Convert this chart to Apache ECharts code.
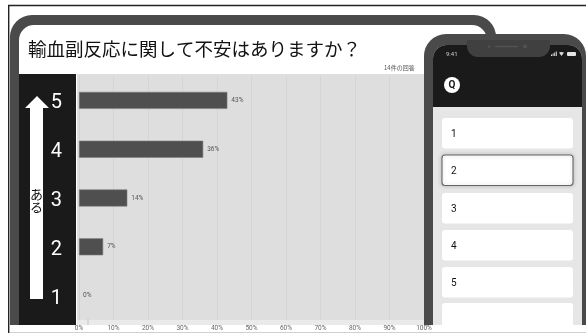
<!DOCTYPE html>
<html>
<head>
<meta charset="utf-8">
<style>html,body{margin:0;padding:0;background:#fff}#c{width:586px;height:333px}</style>
<script src="https://cdn.jsdelivr.net/npm/echarts@6/dist/echarts.min.js"></script>
</head>
<body>
<div id="c"></div>
<script>
// Survey answers: rating and share of the 14 responses
const ratings = ['5', '4', '3', '2', '1'];
const shares = [43, 36, 14, 7, 0];
const xTicks = [0, 10, 20, 30, 40, 50, 60, 70, 80, 90, 100];
const optionLabels = ['1', '2', '3', '4', '5'];
const titleText = '輸血副反応に関して不安はありますか？';
const countText = '14件の回答';

const JP = '"Noto Sans CJK JP","Liberation Sans",sans-serif';
const UI = 'Roboto,"Liberation Sans",sans-serif';

// Tablet frame, dark rating panel, plot background and the rating arrow
const backdrop = [
  { type: 'line', z: -20, shape: { x1: 8, y1: 5.5, x2: 586, y2: 5.5 }, style: { stroke: '#222222', lineWidth: 1.4 } },
  { type: 'line', z: -20, shape: { x1: 8.7, y1: 5, x2: 8.7, y2: 333 }, style: { stroke: '#222222', lineWidth: 1.4 } },
  { type: 'rect', z: -19, shape: { x: 10, y: 15, width: 486, height: 310, r: [22, 22, 0, 0] }, style: { fill: '#4a4a4a' } },
  { type: 'rect', z: -18, shape: { x: 19, y: 25, width: 468, height: 300, r: [15, 15, 0, 0] }, style: { fill: '#ffffff' } },
  { type: 'rect', z: -17, shape: { x: 19, y: 74, width: 57, height: 251 }, style: { fill: '#1a1a1a' } },
  { type: 'rect', z: -17, shape: { x: 77, y: 74, width: 350, height: 246 }, style: { fill: '#dedede' } },
  { type: 'rect', z: -17, shape: { x: 77, y: 320, width: 350, height: 5 }, style: { fill: '#eaeaea' } },
  { type: 'line', z: -16, shape: { x1: 88, y1: 319, x2: 88, y2: 325 }, style: { stroke: '#c4c4c4', lineWidth: 1 } },
  { type: 'rect', z: -16, shape: { x: 10, y: 325, width: 420, height: 7 }, style: { fill: '#ffffff' } },
  { type: 'line', z: -16, shape: { x1: 10, y1: 332.5, x2: 586, y2: 332.5 }, style: { stroke: '#d0d0d0', lineWidth: 1 } },
  { type: 'polygon', z: 5, shape: { points: [[37, 96], [49, 108], [43, 108], [43, 299], [30, 299], [30, 108], [25, 108]] }, style: { fill: '#ffffff' } },
  { type: 'text', z: 6, style: { x: 36.5, y: 194, text: 'あ', font: '13px ' + JP, fill: '#111', align: 'center', verticalAlign: 'middle' } },
  { type: 'text', z: 6, style: { x: 36.5, y: 207, text: 'る', font: '13px ' + JP, fill: '#111', align: 'center', verticalAlign: 'middle' } },
  { type: 'text', z: 6, style: { x: 384, y: 68, text: countText, font: '6px ' + JP, fill: '#555', align: 'left', verticalAlign: 'middle' } }
];

// Phone mock-up drawn over the right side of the tablet
const cardTops = [118, 155, 193, 230, 267];
const signalHeights = [1.5, 2.5, 3.5, 4.5];
const phone = [
  { type: 'rect', z: 100, shape: { x: 424, y: 34, width: 162, height: 291, r: [22, 22, 0, 0] }, style: { fill: '#4a4a4a' } },
  { type: 'rect', z: 101, shape: { x: 433, y: 45, width: 149, height: 280, r: [14, 14, 0, 0] }, style: { fill: '#e6e6e6' } },
  { type: 'rect', z: 102, shape: { x: 433, y: 45, width: 149, height: 62, r: [14, 14, 0, 0] }, style: { fill: '#1a1a1a' } },
  { type: 'rect', z: 103, shape: { x: 467, y: 40, width: 83, height: 17, r: [0, 0, 11, 11] }, style: { fill: '#404040' } },
  { type: 'line', z: 104, shape: { x1: 495, y1: 46.5, x2: 518, y2: 46.5 }, style: { stroke: '#525252', lineWidth: 1.5 } },
  { type: 'circle', z: 104, shape: { cx: 489, cy: 46.5, r: 1.3 }, style: { fill: '#525252' } },
  { type: 'circle', z: 104, shape: { cx: 525, cy: 46.5, r: 2 }, style: { fill: '#525252' } },
  { type: 'text', z: 104, style: { x: 446, y: 54, text: '9:41', font: '6px ' + UI, fill: '#cfcfcf', align: 'left', verticalAlign: 'middle' } },
  { type: 'polygon', z: 104, shape: { points: [[559, 52.5], [561, 52], [564, 52.5], [561.5, 56]] }, style: { fill: '#dddddd' } },
  { type: 'rect', z: 104, shape: { x: 567, y: 52, width: 9, height: 4, r: 1 }, style: { fill: '#e4e4e4' } },
  { type: 'circle', z: 104, shape: { cx: 452, cy: 85, r: 8 }, style: { fill: '#ffffff' } },
  { type: 'text', z: 105, style: { x: 452, y: 85, text: 'Q', font: 'bold 10px ' + UI, fill: '#1a1a1a', align: 'center', verticalAlign: 'middle' } },
  { type: 'rect', z: 103, shape: { x: 442, y: 303, width: 131, height: 22, r: [3, 3, 0, 0] }, style: { fill: '#ffffff' } }
];
signalHeights.forEach((h, i) => {
  phone.push({ type: 'rect', z: 104, shape: { x: 551 + i * 1.6, y: 56 - h, width: 1, height: h }, style: { fill: '#dddddd' } });
});
optionLabels.forEach((label, i) => {
  const picked = label === '2';
  phone.push({
    type: 'rect', z: 103,
    shape: { x: 442, y: cardTops[i], width: 131, height: 30.5, r: 3 },
    style: picked
      ? { fill: '#ffffff', stroke: '#666666', lineWidth: 1.1, shadowBlur: 4, shadowColor: 'rgba(0,0,0,0.2)' }
      : { fill: '#ffffff' }
  });
  phone.push({
    type: 'text', z: 104,
    style: { x: 451, y: cardTops[i] + 16, text: label, font: '10px ' + UI, fill: '#111', align: 'left', verticalAlign: 'middle' }
  });
});

const chart = echarts.init(document.getElementById('c'), null, { renderer: 'canvas' });
chart.setOption({
  animation: false,
  backgroundColor: '#ffffff',
  title: {
    text: titleText, left: 23, top: 35,
    textStyle: { fontFamily: JP, fontSize: 18.5, fontWeight: 'normal', color: '#111' }
  },
  grid: { left: 79, right: 162, top: 76, bottom: 13, show: false },
  xAxis: {
    type: 'value', min: 0, max: 100, interval: 10,
    axisLine: { show: false }, axisTick: { show: false },
    axisLabel: { formatter: v => xTicks.includes(v) ? v + '%' : '', fontSize: 6.5, color: '#666', margin: 5, fontFamily: UI, hideOverlap: false },
    splitLine: { show: true, lineStyle: { color: '#d4d4d4', width: 1 } }
  },
  yAxis: {
    type: 'category', data: ratings, inverse: true,
    axisLine: { show: false }, axisTick: { show: false },
    // the rating digits sit slightly below each band's centre
    axisLabel: { color: '#ffffff', fontSize: 20, margin: 17, verticalAlign: 'top', lineHeight: 6, fontFamily: 'Roboto,"Liberation Sans",sans-serif' }
  },
  series: [{
    type: 'bar',
    // a zero share has no bar, only its label
    data: shares.map(v => ({ value: v, itemStyle: { borderWidth: v === 0 ? 0 : 0.6 } })),
    barWidth: 17,
    itemStyle: { color: '#4f4f4f', borderColor: '#7a7a7a' },
    label: { show: true, position: 'right', distance: 4, formatter: '{c}%', fontSize: 6.5, color: '#555', fontFamily: UI }
  }],
  graphic: backdrop.concat(phone)
});
</script>
</body>
</html>
